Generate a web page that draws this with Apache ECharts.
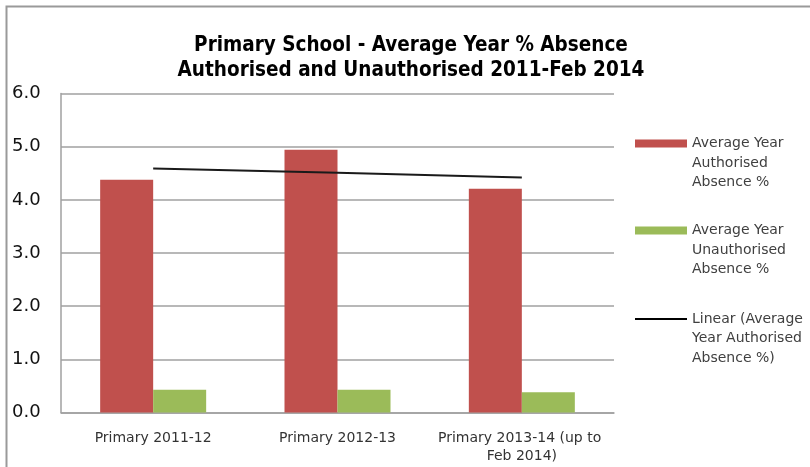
<!DOCTYPE html>
<html>
<head>
<meta charset="utf-8">
<title>Primary School - Average Year % Absence</title>
<script src="https://cdn.jsdelivr.net/npm/echarts@6/dist/echarts.min.js"></script>
<style>
  html, body { margin: 0; padding: 0; background: #ffffff; }
  #chart { width: 810px; height: 467px; }
</style>
</head>
<body>
<div id="chart"></div>
<script>
// School years shown on the category axis
const categories = ['Primary 2011-12', 'Primary 2012-13', 'Primary 2013-14 (up to Feb 2014)'];

// Average yearly absence, percent
const authorised = [4.38, 4.94, 4.21];
const unauthorised = [0.43, 0.43, 0.38];

// Linear trend of the authorised absence at each category
const trendAuthorised = [4.59, 4.51, 4.42];

// Value axis ticks
const yTicks = [0, 1, 2, 3, 4, 5, 6];

const seriesNames = [
  'Average Year Authorised Absence %',
  'Average Year Unauthorised Absence %',
  'Linear (Average Year Authorised Absence %)'
];
// Legend entries wrap over three lines; two leading blank lines keep the
// first line level with the swatch, since the text block is centred on it.
const legendLines = {
  'Average Year Authorised Absence %': '\n\nAverage Year\nAuthorised\nAbsence %',
  'Average Year Unauthorised Absence %': '\n\nAverage Year\nUnauthorised\nAbsence %',
  'Linear (Average Year Authorised Absence %)': '\n\nLinear (Average\nYear Authorised\nAbsence %)'
};

const RED = '#c0504d';
const GREEN = '#9bbb59';
const GRID = '#a0a0a0';
const FONT = 'DejaVu Sans';

const LINE_H = 19.5;
function legendFor(name, iconCenterY, iconH, color) {
  return {
    data: [{ name: name, icon: 'rect', itemStyle: { color: color } }],
    orient: 'vertical',
    left: 635,
    top: iconCenterY - (5 * LINE_H) / 2,
    padding: 0,
    itemWidth: 52,
    itemHeight: iconH,
    selectedMode: false,
    formatter: n => legendLines[n],
    textStyle: {
      fontFamily: FONT,
      fontSize: 14,
      color: '#404040',
      lineHeight: LINE_H
    }
  };
}

const chart = echarts.init(document.getElementById('chart'), null, { renderer: 'canvas' });

chart.setOption({
  animation: false,
  backgroundColor: '#ffffff',
  title: {
    text: 'Primary School - Average Year % Absence\nAuthorised and Unauthorised 2011-Feb 2014',
    left: 411,
    top: 33,
    padding: 0,
    textAlign: 'center',
    textStyle: {
      fontFamily: 'DejaVu Sans Condensed',
      fontWeight: 'bold',
      fontSize: 20.5,
      lineHeight: 25,
      color: '#000000'
    }
  },
  legend: [
    legendFor(seriesNames[0], 143.5, 8, RED),
    legendFor(seriesNames[1], 230.5, 8, GREEN),
    legendFor(seriesNames[2], 319, 2, '#000000')
  ],
  grid: {
    left: 61,
    right: 196,
    top: 93.5,
    bottom: 54.5,
    containLabel: false
  },
  xAxis: {
    type: 'category',
    data: categories,
    axisTick: { show: false },
    axisLine: { show: true, lineStyle: { color: GRID, width: 1.5 } },
    axisLabel: {
      fontFamily: FONT,
      fontSize: 14,
      color: '#333333',
      margin: 17,
      lineHeight: 18,
      width: 180,
      overflow: 'break',
      interval: 0
    }
  },
  yAxis: {
    type: 'value',
    min: yTicks[0],
    max: yTicks[yTicks.length - 1],
    interval: 1,
    axisTick: { show: false },
    axisLine: { show: true, lineStyle: { color: GRID, width: 1.5 } },
    splitLine: { show: true, lineStyle: { color: GRID, width: 1.5 } },
    axisLabel: {
      fontFamily: FONT,
      fontSize: 18,
      color: '#111111',
      align: 'left',
      margin: 49,
      formatter: v => v.toFixed(1)
    }
  },
  series: [
    {
      name: seriesNames[0],
      type: 'bar',
      data: authorised,
      barWidth: 53,
      barGap: '0%',
      itemStyle: { color: RED }
    },
    {
      name: seriesNames[1],
      type: 'bar',
      data: unauthorised,
      barWidth: 53,
      barGap: '0%',
      itemStyle: { color: GREEN }
    },
    {
      name: seriesNames[2],
      type: 'line',
      data: trendAuthorised,
      showSymbol: false,
      symbol: 'none',
      lineStyle: { color: '#1a1a1a', width: 2 },
      itemStyle: { color: '#1a1a1a' },
      z: 5
    }
  ],
  graphic: [
    {
      type: 'polyline',
      silent: true,
      shape: { points: [[6.5, 467], [6.5, 6.5], [810, 6.5]] },
      style: { stroke: '#9a9a9a', lineWidth: 2, fill: null }
    }
  ]
});
</script>
</body>
</html>
